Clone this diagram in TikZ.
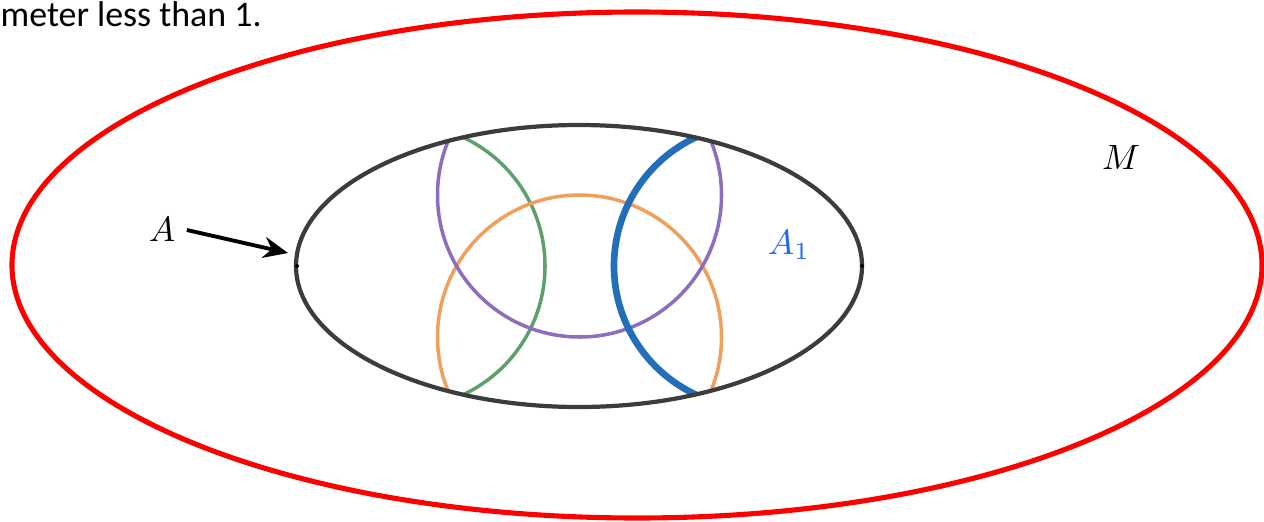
\documentclass[tikz,border=0pt]{standalone}
\usepackage{fontspec}
\setmainfont{Carlito}
\usepackage{tikz}
\usetikzlibrary{positioning,arrows.meta}

\definecolor{outerred}{RGB}{255,0,0}
\definecolor{setgray}{RGB}{60,60,60}
\definecolor{arcpurple}{RGB}{140,110,190}
\definecolor{arcorange}{RGB}{240,160,90}
\definecolor{arcgreen}{RGB}{95,160,110}
\definecolor{arcblue}{RGB}{35,110,185}
\definecolor{labelblue}{RGB}{30,100,255}

\begin{document}
\begin{tikzpicture}[x=0.01cm,y=-0.01cm]
        \tikzset{
            border/.style={line width=1.2pt},
            arc/.style={line width=1pt},
            lbl/.style={inner sep=0pt, font=\fontsize{10.3}{12}\selectfont}
        }
        \useasboundingbox (0,0) rectangle (1264,521);
        % cut-off text line at the top
        \node[anchor=base west, inner sep=0pt, font=\fontsize{10.2}{12}\selectfont] (caption) at (0,26) {meter less than 1.};
        % space M
        \draw[border, line width=1.45pt, outerred] (637,265) ellipse [x radius=625, y radius=253];
        % arcs inside A
        \begin{scope}
            \clip (579,266) ellipse [x radius=283, y radius=141];
            \draw[arc, arcgreen] (403,266) circle [radius=142];
            \draw[arc, arcorange] (579.5,337) circle [radius=142];
            \draw[arc, arcpurple] (579.5,195) circle [radius=142];
            \draw[line width=1.9pt, arcblue] (756,266) circle [radius=142];
        \end{scope}
        % set A
        \draw[border, setgray] (579,266) ellipse [x radius=283, y radius=141];
        \fill[black] (297,266) circle [radius=2];
        \fill[black] (862,266) circle [radius=2];
        % labels
        \node[lbl] (labelA) at (162,229) {$A$};
        \node[lbl, text=labelblue] (labelA1) at (789,245) {$A_1$};
        \node[lbl] (labelM) at (1121,157) {$M$};
        \coordinate (tipA) at (288,253);
        \draw[-{Stealth[length=7pt,width=6pt]}, line width=1.1pt] (labelA.east) ++(11,1) -- (tipA);
\end{tikzpicture}
\end{document}
